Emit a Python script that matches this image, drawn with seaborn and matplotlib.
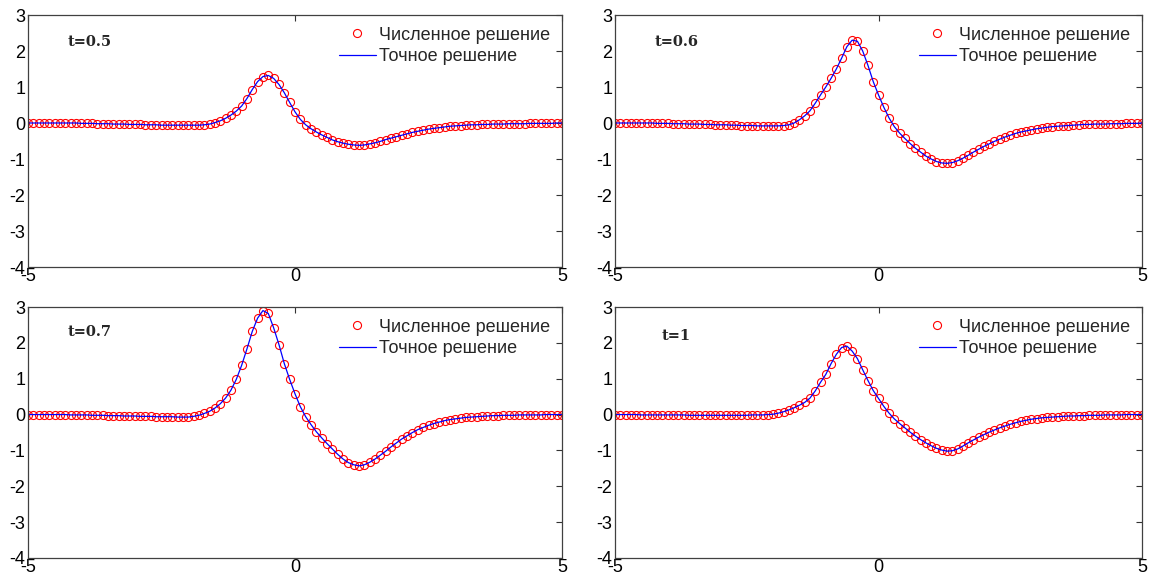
import numpy as np
import matplotlib
matplotlib.use("Agg")
import matplotlib.pyplot as plt
import seaborn as sns

# ---- data ----
x = np.round(np.linspace(-5, 5, 101), 2)

y_t05 = [0, 0, 0, 0, 0, 0, 0, 0, 0, 0,
         -0.01, -0.01, -0.01, -0.02, -0.02, -0.02, -0.03, -0.03, -0.03, -0.04,
         -0.04, -0.04, -0.05, -0.05, -0.05, -0.06, -0.06, -0.06, -0.06, -0.06,
         -0.06, -0.06, -0.06, -0.05, -0.03, 0.01, 0.06, 0.13, 0.22, 0.33,
         0.47, 0.68, 0.93, 1.15, 1.29, 1.32, 1.24, 1.07, 0.84, 0.57,
         0.31, 0.10, -0.05, -0.16, -0.25, -0.33, -0.40, -0.47, -0.52, -0.56,
         -0.59, -0.61, -0.62, -0.61, -0.58, -0.55, -0.51, -0.46, -0.42, -0.38,
         -0.34, -0.30, -0.26, -0.23, -0.20, -0.17, -0.15, -0.13, -0.11, -0.09,
         -0.08, -0.07, -0.06, -0.05, -0.05, -0.04, -0.04, -0.03, -0.03, -0.03,
         -0.02, -0.02, -0.02, -0.02, -0.01, -0.01, -0.01, -0.01, -0.01, 0.00,
         0.00]

y_t06 = [0, 0, 0, 0, 0, 0, 0, 0, -0.01, -0.01,
         -0.01, -0.02, -0.02, -0.02, -0.03, -0.03, -0.03, -0.04, -0.04, -0.05,
         -0.05, -0.05, -0.06, -0.06, -0.07, -0.07, -0.07, -0.08, -0.08, -0.08,
         -0.08, -0.08, -0.07, -0.05, 0.00, 0.09, 0.20, 0.34, 0.55, 0.78,
         1.00, 1.24, 1.50, 1.80, 2.12, 2.30, 2.27, 2.00, 1.60, 1.15,
         0.78, 0.44, 0.14, -0.10, -0.28, -0.43, -0.57, -0.70, -0.81, -0.92,
         -1.00, -1.07, -1.11, -1.12, -1.10, -1.05, -0.98, -0.90, -0.81, -0.73,
         -0.65, -0.58, -0.51, -0.45, -0.39, -0.34, -0.29, -0.25, -0.22, -0.19,
         -0.16, -0.14, -0.12, -0.10, -0.09, -0.08, -0.07, -0.06, -0.05, -0.04,
         -0.04, -0.03, -0.03, -0.03, -0.02, -0.02, -0.02, -0.01, -0.01, -0.01,
         0.00]

y_t07 = [0, 0, 0, 0, 0, 0, 0, 0, -0.01, -0.01,
         -0.01, -0.01, -0.02, -0.02, -0.02, -0.03, -0.03, -0.03, -0.04, -0.04,
         -0.04, -0.05, -0.05, -0.05, -0.06, -0.06, -0.06, -0.06, -0.07, -0.07,
         -0.07, -0.05, -0.02, 0.03, 0.09, 0.18, 0.30, 0.46, 0.68, 0.98,
         1.37, 1.83, 2.32, 2.69, 2.90, 2.82, 2.42, 1.95, 1.42, 0.98,
         0.58, 0.22, -0.06, -0.28, -0.48, -0.65, -0.81, -0.96, -1.11, -1.24,
         -1.34, -1.40, -1.43, -1.40, -1.33, -1.24, -1.13, -1.02, -0.90, -0.79,
         -0.68, -0.59, -0.50, -0.42, -0.36, -0.30, -0.25, -0.21, -0.17, -0.14,
         -0.12, -0.10, -0.08, -0.07, -0.06, -0.05, -0.04, -0.03, -0.03, -0.02,
         -0.02, -0.02, -0.01, -0.01, -0.01, -0.01, -0.01, 0.00, 0.00, 0.00,
         0.00]

y_t10 = [0, 0, 0, 0, 0, -0.01, -0.01, -0.01, -0.01, -0.01,
         -0.01, -0.01, -0.01, -0.01, -0.02, -0.02, -0.02, -0.02, -0.02, -0.02,
         -0.02, -0.02, -0.02, -0.02, -0.02, -0.02, -0.01, -0.01, -0.01, 0.00,
         0.01, 0.04, 0.08, 0.13, 0.19, 0.26, 0.34, 0.46, 0.66, 0.90,
         1.12, 1.42, 1.68, 1.87, 1.91, 1.77, 1.56, 1.25, 0.95, 0.67,
         0.45, 0.23, 0.04, -0.12, -0.25, -0.37, -0.49, -0.60, -0.70, -0.79,
         -0.87, -0.94, -0.99, -1.02, -1.01, -0.96, -0.88, -0.79, -0.71, -0.63,
         -0.56, -0.49, -0.43, -0.37, -0.32, -0.27, -0.23, -0.19, -0.16, -0.13,
         -0.11, -0.09, -0.08, -0.07, -0.06, -0.05, -0.04, -0.04, -0.03, -0.03,
         -0.02, -0.02, -0.02, -0.01, -0.01, -0.01, -0.01, 0.00, 0.00, 0.00,
         0.00]

panel_labels = ["t=0.5", "t=0.6", "t=0.7", "t=1"]
series = [y_t05, y_t06, y_t07, y_t10]
label_pos = [(-4.25, 2.25), (-4.24, 2.25), (-4.25, 2.3), (-4.11, 2.2)]
legend_labels = ["Численное решение", "Точное решение"]
x_ticks = [-5, 0, 5]
y_ticks = [-4, -3, -2, -1, 0, 1, 2, 3]

# ---- style ----
sns.set_style("white")
plt.rcParams['font.family'] = ['Liberation Sans', 'DejaVu Sans']

W, H = 1158, 578
fig = plt.figure(figsize=(W / 100, H / 100), dpi=100)
# axes boxes in pixels: (left, top, right, bottom)
boxes = [(28, 15, 562, 267), (615, 15, 1142, 267),
         (28, 307, 562, 558), (615, 307, 1142, 558)]

for box, y, lab, lp in zip(boxes, series, panel_labels, label_pos):
    l, t, r, b = box
    ax = fig.add_axes([l / W, 1 - b / H, (r - l) / W, (b - t) / H])
    sns.lineplot(x=x, y=y, ax=ax, estimator=None, sort=False,
                 marker='o', linestyle='', markersize=5.8,
                 markerfacecolor='none', markeredgecolor='red',
                 markeredgewidth=0.8, color='red', label=legend_labels[0])
    sns.lineplot(x=x, y=y, ax=ax, estimator=None, sort=False,
                 color='blue', linewidth=0.9, label=legend_labels[1])
    ax.set_xlim(-5, 5)
    ax.set_ylim(-4, 3)
    ax.set_xticks(x_ticks)
    ax.set_yticks(y_ticks)
    ax.set_xticklabels([str(v) for v in x_ticks])
    ax.set_yticklabels([str(v) for v in y_ticks])
    ax.tick_params(direction='in', length=4, width=0.8, top=True, right=True,
                   labelsize=13, colors='#333333', labelcolor='black')
    ax.tick_params(axis='x', pad=1)
    ax.tick_params(axis='y', pad=2)
    for s in ax.spines.values():
        s.set_color('#404040')
        s.set_linewidth(0.9)
    ax.text(lp[0], lp[1], lab, fontfamily='DejaVu Serif', fontweight='bold',
            fontsize=10.5, va='center', ha='left')
    ax.legend(loc='upper right', frameon=False, fontsize=13,
              handlelength=2.0, handletextpad=0.2, labelspacing=0.25,
              borderaxespad=0.45, borderpad=0.2)

fig.savefig('out.png', dpi=100)
